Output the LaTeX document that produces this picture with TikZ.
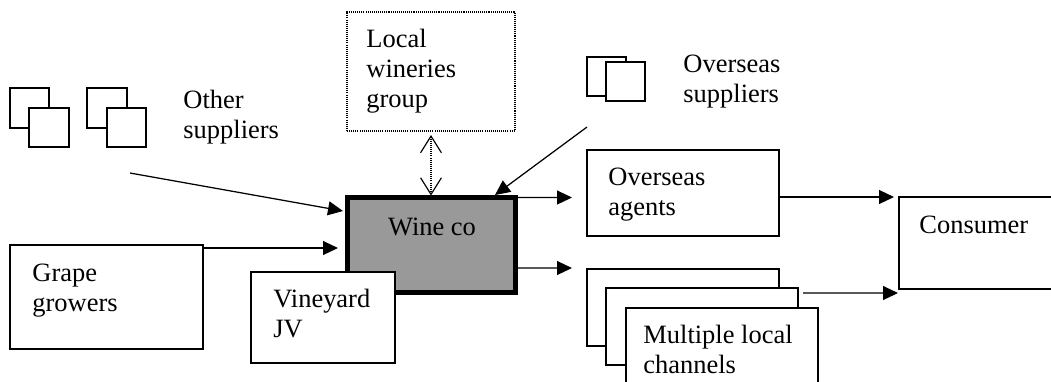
\documentclass[tikz,border=0pt]{standalone}
\usepackage{fontspec}
\setmainfont{Liberation Serif}
\usetikzlibrary{arrows.meta,fit,calc}
\definecolor{cogray}{HTML}{999999}
\tikzset{
  box/.style={draw, line width=0.6pt, fill=white, inner sep=0pt, outer sep=0pt},
  dotbox/.style={draw, line width=0.55pt, dash pattern=on 0.5pt off 0.5pt, inner sep=0pt, outer sep=0pt},
  corebox/.style={draw, line width=2.6pt, fill=cogray, inner sep=0pt, outer sep=0pt},
  label/.style={anchor=base west, inner sep=0pt, font=\fontsize{12.7}{14.4}\selectfont},
  flow/.style={line width=0.6pt, -{Triangle[length=7.2pt,width=6.7pt]}},
  barb/.tip={Straight Barb[length=8pt,width=10pt,line width=0.55pt]},
  linkflow/.style={line width=0.55pt, dash pattern=on 0.5pt off 0.5pt, barb-barb},
}
\newcommand\stacklines[1]{\vtop{#1}}
\begin{document}
\begin{tikzpicture}[x=0.48pt,y=-0.48pt]
\useasboundingbox (0,0) rectangle (1051,381);
\clip (0,0) rectangle (1051,381);

% other suppliers: two pairs of overlapping squares
\node[box, fit={(10,88)(49,128)}]  (osA1) {};
\node[box, fit={(29,108)(69,147)}] (osA2) {};
\node[box, fit={(87,88)(127,128)}]  (osB1) {};
\node[box, fit={(107,108)(146,147)}] (osB2) {};
\node[label] (ostxt) at (183,108) {\stacklines{\hbox{Other}\hbox{suppliers}}};
\coordinate (osfrom) at (130,173);

% local wineries group (dotted)
\node[dotbox, fit={(347,12)(515,131)}] (local) {};
\node[label] (localtxt) at (366,47) {\stacklines{\hbox{Local}\hbox{wineries}\hbox{group}}};

% overseas suppliers
\node[box, fit={(587,57)(626,96)}]  (ovs1) {};
\node[box, fit={(606,62)(645,101)}] (ovs2) {};
\node[label] (ovstxt) at (683,72) {\stacklines{\hbox{Overseas}\hbox{suppliers}}};

% wine co
\node[corebox, fit={(347.5,197.5)(515.5,292.5)}] (wine) {};
\node[label, anchor=base] (winetxt) at (432,235) {Wine co};

% grape growers
\node[box, fit={(10,245)(203,349)}] (grape) {};
\node[label] (grapetxt) at (32,281) {\stacklines{\hbox{Grape}\hbox{growers}}};

% vineyard JV (overlaps wine co)
\node[box, fit={(251,272)(395,363)}] (jv) {};
\node[label] (jvtxt) at (273,307) {\stacklines{\hbox{Vineyard}\hbox{JV}}};

% overseas agents
\node[box, fit={(587,150)(779,236)}] (agents) {};
\node[label] (agentstxt) at (608,185) {\stacklines{\hbox{Overseas}\hbox{agents}}};

% multiple local channels (stacked)
\node[box, fit={(587,269)(779,346)}] (ch1) {};
\node[box, fit={(606,288)(798,365)}] (ch2) {};
\node[box, fit={(626,308)(818,385)}] (ch3) {};
\node[label] (chtxt) at (643,343) {\stacklines{\hbox{Multiple local}\hbox{channels}}};

% consumer
\node[box, fit={(899,197)(1070,289)}] (consumer) {};
\node[label] (consumertxt) at (919,233) {Consumer};

% connectors
\draw[flow] (osfrom) -- ($(wine.west)+(-4.5,-34)$);
\draw[flow] ($(grape.north east)+(0,3)$) -- ($(wine.west)+(-9.5,3)$);
\draw[flow] ($(ovs1.south west)+(0,31)$) -- ($(wine.north)+(63.5,-2.5)$);
\draw[linkflow] ($(local.south)+(0,4)$) -- ($(wine.north)+(-0.5,-2)$);
\draw[flow] ($(wine.north east)+(2.5,0)$) -- ($(agents.west)+(-15,4.5)$);
\draw[flow] ($(wine.east)+(2.5,23)$) -- ($(ch1.north west)+(-15,-1)$);
\draw[flow] (agents.east |- consumer.north) -- ($(consumer.north west)+(-5,0)$);
\draw[flow] ($(ch2.north east)+(5,5)$) -- ($(consumer.south west)+(-1,4)$);
\end{tikzpicture}
\end{document}
